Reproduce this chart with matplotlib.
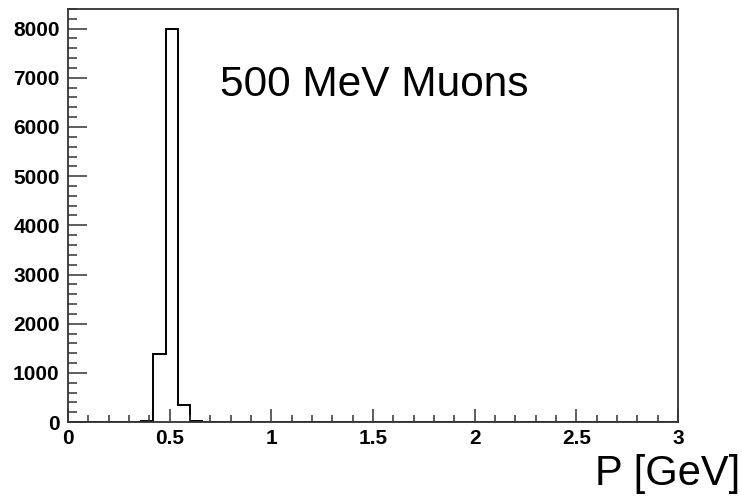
import numpy as np
import matplotlib.pyplot as plt
from matplotlib.ticker import MultipleLocator

# histogram of reconstructed momentum, 50 bins between 0 and 3 GeV
bin_edges = np.linspace(0.0, 3.0, 51)
counts = np.zeros(50)
filled_bins = [6, 7, 8, 9, 10]
filled_counts = [25, 1375, 8000, 352, 25]
counts[filled_bins] = filled_counts

plt.rcParams['font.family'] = ['Liberation Sans', 'DejaVu Sans']

fig = plt.figure(figsize=(7.42, 4.99), dpi=100)
ax = fig.add_axes([68 / 742, 77 / 499, 610 / 742, 413 / 499])

ax.stairs(counts, bin_edges, color='black', linewidth=1.4)

ax.set_xlim(0, 3)
ax.set_ylim(0, 8400)
ax.xaxis.set_major_locator(MultipleLocator(0.5))
ax.xaxis.set_minor_locator(MultipleLocator(0.1))
ax.yaxis.set_major_locator(MultipleLocator(1000))
ax.yaxis.set_minor_locator(MultipleLocator(200))
ax.set_xticks([0, 0.5, 1, 1.5, 2, 2.5, 3], ['0', '0.5', '1', '1.5', '2', '2.5', '3'])

ax.tick_params(axis='both', which='both', direction='in', top=False, right=False,
               color='#333333', width=1.1)
ax.tick_params(axis='y', which='major', length=13.5, pad=6)
ax.tick_params(axis='y', which='minor', length=6.5)
ax.tick_params(axis='x', which='major', length=9.5, pad=5)
ax.tick_params(axis='x', which='minor', length=5)
for lab in ax.get_xticklabels() + ax.get_yticklabels():
    lab.set_fontsize(15)
    lab.set_fontweight('bold')

for sp in ax.spines.values():
    sp.set_color('#333333')
    sp.set_linewidth(1.3)

ax.text(0.75, 6640, '500 MeV Muons', fontsize=30.5, ha='left', va='baseline')
fig.text(740 / 742, 14 / 499, 'P [GeV]', fontsize=30, ha='right', va='baseline')

plt.savefig('out.png', dpi=100)
